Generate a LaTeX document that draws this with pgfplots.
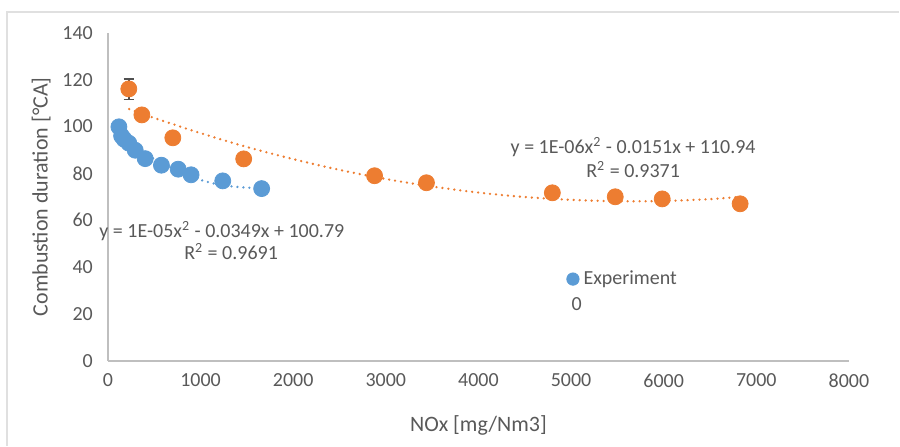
\documentclass[border=0pt]{standalone}
\usepackage{fontspec}
\setmainfont{Carlito}
\usepackage{pgfplots}
\pgfplotsset{compat=1.18}
\definecolor{exblue}{HTML}{5B9BD5}
\definecolor{exorange}{HTML}{ED7D31}
\definecolor{txtgray}{HTML}{595959}
\definecolor{axgray}{HTML}{BFBFBF}
\definecolor{errgray}{HTML}{505050}
\begin{document}
\begin{tikzpicture}
% page frame (reference is 900x446 px, 1 px = 0.5pt)
\path (0,0) rectangle (450pt,223pt);
\draw[color=black!12, line width=1pt] (3.5pt,0) -- (3.5pt,217pt) -- (450pt,217pt);
\begin{axis}[
  at={(54pt,42.5pt)}, anchor=origin,
  x=0.04637pt, y=1.1714pt,
  scale only axis,
  xmin=0, xmax=8000, ymin=0, ymax=140,
  xtick={0,1000,...,8000}, ytick={0,20,...,140},
  axis x line*=bottom, axis y line*=left,
  axis line style={axgray, line width=0.9pt, -},
  major tick length=0pt,
  tick label style={font=\fontsize{10}{11}\selectfont, text=txtgray},
  /pgf/number format/assume math mode=true,
  /pgf/number format/1000 sep={},
  xticklabel style={yshift=-3pt},
  yticklabel style={xshift=-4pt},
  xlabel={NOx [mg/Nm3]}, ylabel={Combustion duration [°CA]},
  label style={font=\fontsize{11}{13}\selectfont, text=txtgray},
  xlabel style={yshift=-7pt},
  ylabel style={yshift=-1pt},
  clip=false,
  legend style={draw=none, fill=none, at={(axis cs:4880,42)}, anchor=north west,
    font=\fontsize{10}{11}\selectfont, text=txtgray, row sep=1pt,
    /tikz/every even column/.append style={column sep=1pt}},
  legend cell align=left,
  legend image code/.code={\fill[exblue] (0.06cm,0) circle (3.1pt);},
]
% blue series
\addplot[only marks, mark=*, mark size=4pt, color=exblue, mark options={fill=exblue, draw=exblue}] coordinates {
 (119,99.9) (148,96.0) (175,94.6) (226,92.9) (295,89.9) (403,86.3) (578,83.5) (759,81.8) (898,79.4) (1240,76.8) (1660,73.5)};
\addlegendentry{Experiment}
\addlegendimage{legend image code/.code={}}
\addlegendentry{\hspace{-6pt}0}
% blue trendline
\addplot[forget plot, exblue, line width=1.3pt, line cap=round, dash pattern=on 0pt off 3pt, smooth] coordinates {
 (119,96.8) (300,91.3) (600,83.9) (900,78.5) (1200,75.2) (1500,73.9) (1660,74.0)};
% orange trendline
\addplot[forget plot, exorange, line width=1.3pt, line cap=round, dash pattern=on 0pt off 3pt, smooth] coordinates {
 (230,107.5) (500,103.7) (1000,97.2) (1500,91.3) (2000,86.1) (2500,81.5) (3000,77.6) (3500,74.4) (4000,71.8) (4500,69.9) (5000,68.7) (5500,68.1) (6000,68.2) (6500,69.0) (6825,70.0)};
% orange error bar on first point
\addplot[forget plot, errgray, line width=0.7pt] coordinates {(226,111.5) (226,120.4)};
\addplot[forget plot, errgray, line width=0.7pt] coordinates {(170,120.4) (282,120.4)};
\addplot[forget plot, errgray, line width=0.7pt] coordinates {(170,111.5) (282,111.5)};
% orange series
\addplot[forget plot, only marks, mark=*, mark size=4pt, color=exorange, mark options={fill=exorange, draw=exorange}] coordinates {
 (226,116.1) (367,105.0) (701,95.2) (1466,86.2) (2879,79.0) (3439,76.0) (4798,71.7) (5477,70.0) (5984,69.1) (6825,67.0)};
% trendline labels
\node[font=\fontsize{10}{11}\selectfont, text=txtgray] at (axis cs:1230,55.5) {y = 1E-05x\textsuperscript{2} - 0.0349x + 100.79};
\node[font=\fontsize{10}{11}\selectfont, text=txtgray] at (axis cs:1330,46.5) {R\textsuperscript{2} = 0.9691};
\node[font=\fontsize{10}{11}\selectfont, text=txtgray] at (axis cs:5670,91.3) {y = 1E-06x\textsuperscript{2} - 0.0151x + 110.94};
\node[font=\fontsize{10}{11}\selectfont, text=txtgray] at (axis cs:5670,81.5) {R\textsuperscript{2} = 0.9371};
\end{axis}
\end{tikzpicture}
\end{document}
